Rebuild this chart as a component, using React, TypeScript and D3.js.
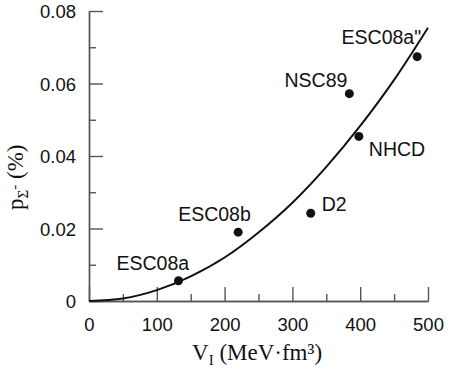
import React, { useEffect, useRef } from "react";
import * as d3 from "d3";

// model points (V_I in MeV·fm^3, p in %)
const modelNames = ["ESC08a", "ESC08b", "D2", "NHCD", "NSC89", 'ESC08a"'];
const modelV = [132, 220, 327, 398, 384, 484];
const modelP = [0.0056, 0.019, 0.0242, 0.0454, 0.0572, 0.0674];

// fitted curve
const curveV = [0, 50, 100, 150, 200, 250, 300, 350, 400, 450, 500];
const curveP = [0, 0.0007, 0.003, 0.0068, 0.012, 0.0189, 0.0271, 0.037, 0.0483, 0.061, 0.0754];

const xMajor = [0, 100, 200, 300, 400, 500];
const xMinor = [50, 150, 250, 350, 450];
const yMajor = [0, 0.02, 0.04, 0.06, 0.08];
const yMinor = [0.01, 0.03, 0.05, 0.07];

// label offsets relative to the dot: [dx, dy, anchor]
const labelPos: [number, number, string][] = [
  [-62, -11, "start"],
  [-60, -11, "start"],
  [11, -2, "start"],
  [10, 20, "start"],
  [-2, -7, "end"],
  [4, -13, "end"],
];

const App = () => {
  const svgRef = useRef<SVGSVGElement>(null);

  useEffect(() => {
    const width = 463;
    const height = 387;
    const margin = { top: 11, right: 35, bottom: 86, left: 89 };

    const svg = d3.select(svgRef.current);
    svg.selectAll("*").remove();

    const x = d3.scaleLinear().domain([0, 500]).range([margin.left, width - margin.right]);
    const y = d3.scaleLinear().domain([0, 0.08]).range([height - margin.bottom, margin.top]);

    const axisColor = "#555";
    const font = "'Liberation Sans', Arial, sans-serif";

    // x axis
    const gx = svg.append("g").attr("transform", `translate(0,${y(0)})`);
    gx.call(
      d3.axisBottom(x).tickValues(xMajor).tickSizeInner(-14).tickSizeOuter(0).tickPadding(17)
        .tickFormat((d) => String(d))
    );
    gx.append("g").call(
      d3.axisBottom(x).tickValues(xMinor).tickSizeInner(-7).tickSizeOuter(0).tickFormat(() => "")
    );

    // y axis
    const gy = svg.append("g").attr("transform", `translate(${x(0)},0)`);
    gy.call(
      d3.axisLeft(y).tickValues(yMajor).tickSizeInner(-14).tickSizeOuter(0).tickPadding(13)
        .tickFormat((d) => (+d === 0 ? "0" : d3.format(".2f")(+d)))
    );
    gy.append("g").call(
      d3.axisLeft(y).tickValues(yMinor).tickSizeInner(-7).tickSizeOuter(0).tickFormat(() => "")
    );

    svg.selectAll(".domain").attr("stroke", axisColor).attr("stroke-width", 1.4);
    svg.selectAll(".tick line").attr("stroke", axisColor).attr("stroke-width", 1.4);
    svg.selectAll(".tick text")
      .attr("font-family", font)
      .attr("font-size", 18.5)
      .attr("fill", "#111");
    gy.selectAll(".tick text").attr("dy", "0.36em");

    // curve
    const line = d3
      .line<number>()
      .x((_, i) => x(curveV[i]))
      .y((_, i) => y(curveP[i]))
      .curve(d3.curveMonotoneX);
    svg
      .append("path")
      .attr("d", line(curveV))
      .attr("fill", "none")
      .attr("stroke", "#111")
      .attr("stroke-width", 2);

    // points
    svg
      .append("g")
      .selectAll("circle")
      .data(modelNames)
      .join("circle")
      .attr("cx", (_, i) => x(modelV[i]))
      .attr("cy", (_, i) => y(modelP[i]))
      .attr("r", 4.5)
      .attr("fill", "#111");

    // point labels
    svg
      .append("g")
      .selectAll("text")
      .data(modelNames)
      .join("text")
      .attr("x", (_, i) => x(modelV[i]) + labelPos[i][0])
      .attr("y", (_, i) => y(modelP[i]) + labelPos[i][1])
      .attr("text-anchor", (_, i) => labelPos[i][2])
      .attr("font-family", font)
      .attr("font-size", 19.5)
      .attr("fill", "#111")
      .text((d) => d);

    // x axis title
    const xt = svg
      .append("text")
      .attr("x", 192)
      .attr("y", 360)
      .attr("font-family", "'Liberation Serif', 'Times New Roman', serif")
      .attr("font-size", 23)
      .attr("fill", "#111");
    xt.append("tspan").text("V");
    xt.append("tspan").attr("font-size", 15).attr("dy", 5).text("I");
    xt.append("tspan").attr("dy", -5).text(" (MeV\u00B7fm\u00B3)");

    // y axis title
    const yt = svg
      .append("text")
      .attr("transform", "translate(23,210) rotate(-90)")
      .attr("font-family", "'Liberation Serif', 'Times New Roman', serif")
      .attr("font-size", 23)
      .attr("fill", "#111");
    yt.append("tspan").text("p");
    yt.append("tspan").attr("font-size", 15).attr("dy", 5).text("\u03A3");
    yt.append("tspan").attr("font-size", 15).attr("dy", -9).text("-");
    yt.append("tspan").attr("dy", 4).text(" (%)");
  }, []);

  return (
    <svg
      ref={svgRef}
      width={463}
      height={387}
      style={{ position: "absolute", left: 0, top: 0, background: "#fff" }}
    />
  );
};

export default App;
